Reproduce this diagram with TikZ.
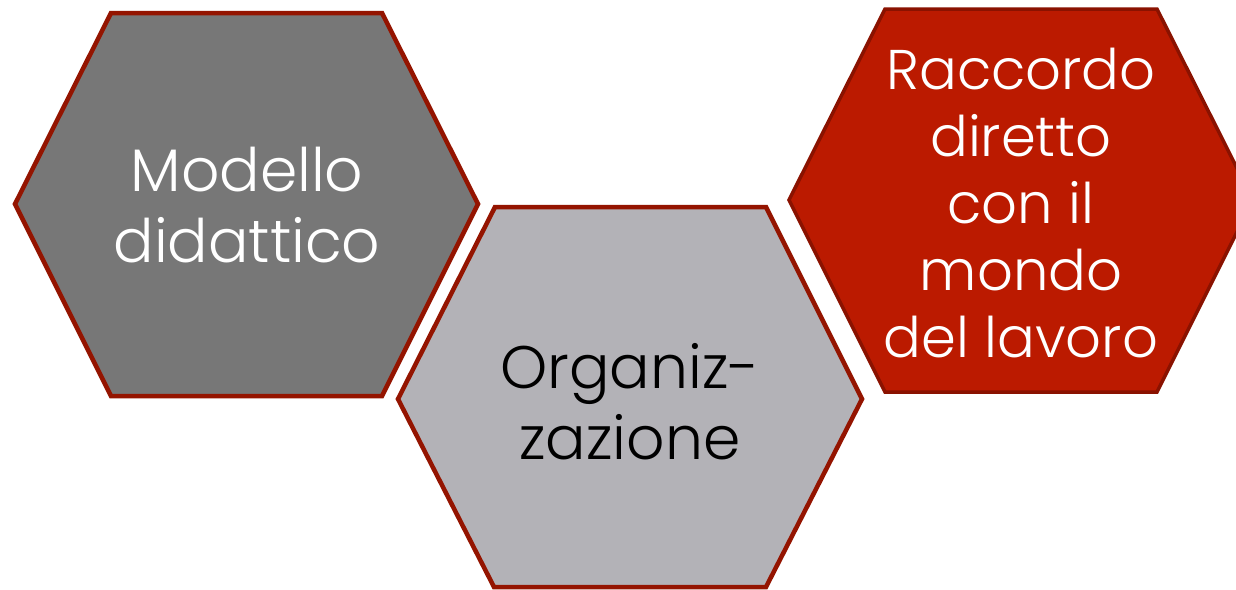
\documentclass[tikz,border=0pt]{standalone}
\usepackage{fontspec}
\setmainfont{Poppins Light}
\definecolor{hexline}{HTML}{941400}
\definecolor{hexlinedark}{HTML}{8A1200}
\definecolor{darkgrey}{HTML}{777777}
\definecolor{lightgrey}{HTML}{B3B2B7}
\definecolor{hexred}{HTML}{BB1A00}
\tikzset{
  hexshape/.style={line width=4.5pt, draw=hexline, line join=miter},
  hextext/.style={align=center, font=\fontsize{60}{71}\selectfont, inner sep=0pt},
}
\begin{document}
\begin{tikzpicture}[x=1pt,y=-1pt]
\useasboundingbox (0,0) rectangle (1236,589);
\clip (0,0) rectangle (1236,589);
\fill[white] (0,0) rectangle (1236,589);
% hexagon 1
\filldraw[hexshape, fill=darkgrey] (15,204) -- (111,13) -- (382,13) -- (478,204) -- (382,396) -- (111,396) -- cycle;
% hexagon 2
\filldraw[hexshape, fill=lightgrey] (398,399) -- (495,207) -- (766,207) -- (862,399) -- (766,587) -- (494,587) -- cycle;
% hexagon 3
\filldraw[hexshape, line width=3.5pt, draw=hexlinedark, fill=hexred] (789,200) -- (885,9) -- (1157,9) -- (1253,200) -- (1157,392) -- (885,392) -- cycle;
\node[hextext, text=white] (t1) at (247,205) {Modello\\didattico};
\node[hextext, text=black] (t2) at (630,402) {Organiz-\\zazione};
\node[hextext, text=white, font=\fontsize{56}{67}\selectfont] (t3) at (1021,203) {Raccordo\\diretto\\con il\\mondo\\del lavoro};
\end{tikzpicture}
\end{document}
